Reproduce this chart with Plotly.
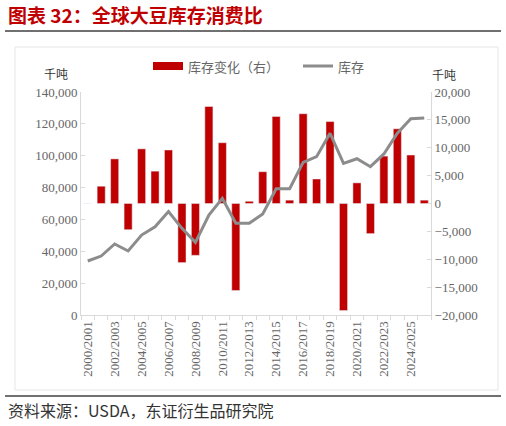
import plotly.graph_objects as go

# 年度（2000/2001 ~ 2025/2026）
years = [f"{y}/{y + 1}" for y in range(2000, 2026)]

# 库存变化（千吨，右轴）
stock_change = [0, 3100, 8000, -4700, 9800, 5800, 9600, -10600, -9300, 17400,
                10900, -15600, 400, 5700, 15600, 600, 16100, 4400, 14700, -19200,
                3700, -5400, 8500, 13400, 8700, 600]

# 库存（千吨，左轴）
stock = [33900, 37000, 44600, 40200, 50200, 55400, 64900, 54400, 45600, 62800,
         73200, 57600, 57600, 63400, 79300, 79300, 95800, 99400, 114100, 95200,
         98100, 93100, 101100, 114100, 123200, 123700]

tick_text = [y if i % 2 == 0 else "" for i, y in enumerate(years)]

RED = "#C00000"
GREY = "#8C8C8C"
W, H = 506, 426
L, R, T, B = 81, 431, 92, 315


def px(x):
    return (x - L) / (R - L)


def py(y):
    return (B - y) / (B - T)


fig = go.Figure()
fig.add_trace(go.Bar(x=years, y=stock_change, name="库存变化（右）",
                     marker_color=RED, yaxis="y", showlegend=False))
fig.add_trace(go.Scatter(x=years, y=stock, name="库存", mode="lines",
                         line=dict(color=GREY, width=3), yaxis="y2",
                         showlegend=False))

tick_font = dict(family="Liberation Serif", size=13, color="#666666")

fig.update_layout(
    width=W, height=H,
    margin=dict(l=L, r=W - R, t=T, b=H - B),
    paper_bgcolor="white", plot_bgcolor="white",
    bargap=0.4,
    xaxis=dict(type="category", tickvals=years, ticktext=tick_text,
               tickangle=-90, tickfont=tick_font, tickson="boundaries",
               ticks="outside", ticklen=4, tickcolor="#D9D9D9",
               showline=True, linecolor="#D9D9D9", linewidth=1,
               showgrid=False),
    yaxis=dict(side="right", range=[-20000, 20000], dtick=5000,
               tickformat=",", tickfont=tick_font, showgrid=False,
               zeroline=False, showline=True, linecolor="#D9D9D9",
               ticks="inside", ticklen=4, tickcolor="#D9D9D9"),
    yaxis2=dict(side="left", overlaying="y", range=[0, 140000], dtick=20000,
                tickformat=",", tickfont=tick_font, showgrid=False,
                zeroline=False, showline=True, linecolor="#D9D9D9",
                ticks="inside", ticklen=4, tickcolor="#D9D9D9"),
)

shapes = [
    # 标题下横线
    dict(type="line", xref="paper", yref="paper", x0=px(5), x1=px(501),
         y0=py(31), y1=py(31), line=dict(color="#404040", width=1.5)),
    # 图框
    dict(type="rect", xref="paper", yref="paper", x0=px(15), x1=px(498),
         y0=py(47), y1=py(390), line=dict(color="#E6E6E6", width=1)),
    # 底部横线
    dict(type="line", xref="paper", yref="paper", x0=px(5), x1=px(501),
         y0=py(396), y1=py(396), line=dict(color="#404040", width=1.5)),
    # 图例
    dict(type="rect", xref="paper", yref="paper", x0=px(153), x1=px(183),
         y0=py(62), y1=py(70), fillcolor=RED, line=dict(width=0)),
    dict(type="line", xref="paper", yref="paper", x0=px(303), x1=px(333),
         y0=py(66), y1=py(66), line=dict(color=GREY, width=3)),
]

cjk = "Noto Sans CJK SC"
annotations = [
    dict(text="<b>图表 32：全球大豆库存消费比</b>", x=px(6), y=py(15),
         font=dict(family=cjk, size=19, color=RED), xanchor="left"),
    dict(text="资料来源：USDA，东证衍生品研究院", x=px(6), y=py(410),
         font=dict(family=cjk, size=16, color="#333333"), xanchor="left"),
    dict(text="库存变化（右）", x=px(186), y=py(66),
         font=dict(family=cjk, size=13, color="#666666"), xanchor="left"),
    dict(text="库存", x=px(336), y=py(66),
         font=dict(family=cjk, size=13, color="#666666"), xanchor="left"),
    dict(text="千吨", x=px(56), y=py(73),
         font=dict(family=cjk, size=12, color="#333333"), xanchor="center"),
    dict(text="千吨", x=px(444), y=py(74),
         font=dict(family=cjk, size=12, color="#333333"), xanchor="center"),
]
for a in annotations:
    a.update(xref="paper", yref="paper", yanchor="middle", showarrow=False)

fig.update_layout(shapes=shapes, annotations=annotations)

# 去掉页面默认边距，使图表贴齐窗口左上角
fig.write_html("out.html", config={"displayModeBar": False},
               post_script="document.body.style.margin='0';")
